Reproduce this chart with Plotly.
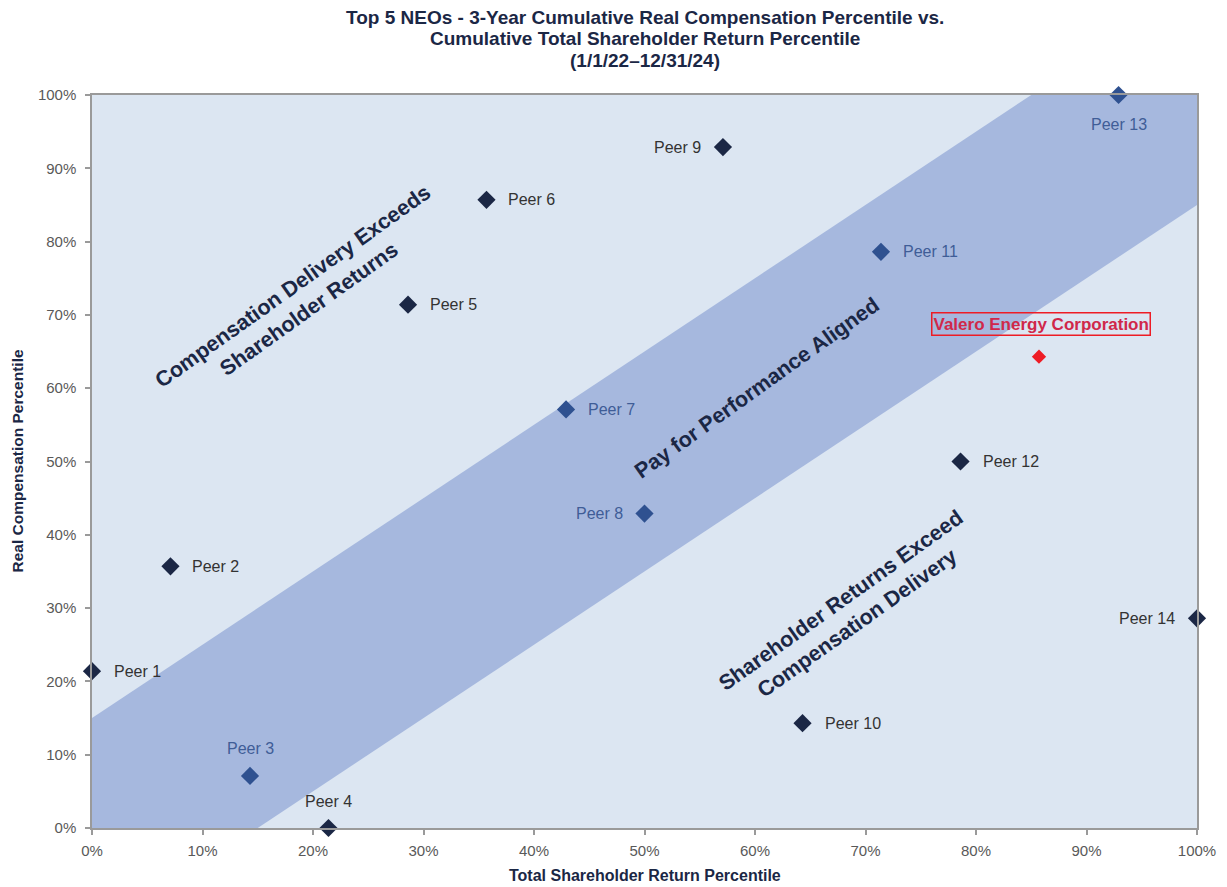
import plotly.graph_objects as go

# ---- data ----
peers = ["Peer 1", "Peer 2", "Peer 3", "Peer 4", "Peer 5", "Peer 6", "Peer 7",
         "Peer 8", "Peer 9", "Peer 10", "Peer 11", "Peer 12", "Peer 13", "Peer 14"]
tsr_pct = [0.0, 7.1, 14.3, 21.4, 28.6, 35.7, 42.9, 50.0, 57.1, 64.3, 71.4, 78.6, 92.9, 100.0]
comp_pct = [21.4, 35.7, 7.1, 0.0, 71.4, 85.7, 57.1, 42.9, 92.9, 14.3, 78.6, 50.0, 100.0, 28.6]
label_side = ["right", "right", "top", "top", "right", "right", "right",
              "left", "left", "right", "right", "right", "bottom", "left"]
valero_name = "Valero Energy Corporation"
valero_tsr = 85.7
valero_comp = 64.3
band_width = 15  # +/- percentile band
ticks = [0, 10, 20, 30, 40, 50, 60, 70, 80, 90, 100]
tick_labels = [f"{t}%" for t in ticks]
title_lines = ["Top 5 NEOs - 3-Year Cumulative Real Compensation Percentile vs.",
               "Cumulative Total Shareholder Return Percentile",
               "(1/1/22\u201312/31/24)"]

FONT = "Arial, Liberation Sans, sans-serif"
DARK = "#1b2745"
BLUE = "#2f5190"
DARK_TXT = "#333333"
BLUE_TXT = "#3f5d97"

in_band = [abs(c - t) <= band_width for t, c in zip(tsr_pct, comp_pct)]

fig = go.Figure()

# band polygon
bx = [0, band_width, 100, 100, 100 - band_width, 0, 0]
by = [0, 0, 100 - band_width, 100, 100, band_width, 0]
fig.add_trace(go.Scatter(x=bx, y=by, mode="lines", fill="toself",
                         fillcolor="#a6b8de", line=dict(width=0),
                         hoverinfo="skip", showlegend=False))

for flag, mc in [(False, DARK), (True, BLUE)]:
    idx = [i for i in range(len(peers)) if in_band[i] == flag]
    fig.add_trace(go.Scatter(
        x=[tsr_pct[i] for i in idx], y=[comp_pct[i] for i in idx],
        mode="markers", marker=dict(symbol="diamond", size=14, color=mc),
        cliponaxis=False, showlegend=False))

side_cfg = {
    "right": dict(xanchor="left", yanchor="middle", xshift=20, yshift=0),
    "left": dict(xanchor="right", yanchor="middle", xshift=-20, yshift=0),
    "top": dict(xanchor="center", yanchor="middle", xshift=0, yshift=27),
    "bottom": dict(xanchor="center", yanchor="middle", xshift=0, yshift=-29),
}
for i, name in enumerate(peers):
    fig.add_annotation(x=tsr_pct[i], y=comp_pct[i], text=name, showarrow=False,
                       font=dict(family=FONT, size=16,
                                 color=BLUE_TXT if in_band[i] else DARK_TXT),
                       **side_cfg[label_side[i]])

fig.add_trace(go.Scatter(x=[valero_tsr], y=[valero_comp], mode="markers",
                         marker=dict(symbol="diamond", size=11, color="#ee1c25"),
                         cliponaxis=False, showlegend=False))
fig.add_annotation(x=valero_tsr, y=valero_comp, text="<b>" + valero_name + "</b>",
                   showarrow=False, yshift=33, xshift=2,
                   font=dict(family=FONT, size=17, color="#d0284a"),
                   bordercolor="#ee1c25", borderwidth=1.5, borderpad=1)

region_font = dict(family=FONT, size=21.5, color="#1b2745")
fig.add_annotation(x=18.9, y=72.3, text="<b>Compensation Delivery Exceeds<br>Shareholder Returns</b>",
                   showarrow=False, textangle=-35.5, font=region_font)
fig.add_annotation(x=60.2, y=60.0, text="<b>Pay for Performance Aligned</b>",
                   showarrow=False, textangle=-35.5, font=region_font)
fig.add_annotation(x=68.5, y=29.5, text="<b>Shareholder Returns Exceed<br>Compensation Delivery</b>",
                   showarrow=False, textangle=-35.5, font=region_font)

# title lines
for line, ys in zip(title_lines, [78, 57, 35]):
    fig.add_annotation(x=0.5, y=1, xref="paper", yref="paper", yshift=ys,
                       text="<b>" + line + "</b>", showarrow=False,
                       xanchor="center", yanchor="middle",
                       font=dict(family=FONT, size=19, color="#1b2745"))

# axis titles as annotations (fixed positions)
fig.add_annotation(x=0.5, y=0, xref="paper", yref="paper", yshift=-47,
                   text="<b>Total Shareholder Return Percentile</b>", showarrow=False,
                   xanchor="center", yanchor="middle",
                   font=dict(family=FONT, size=16, color="#1b2745"))
fig.add_annotation(x=0, y=0.5, xref="paper", yref="paper", xshift=-75,
                   text="<b>Real Compensation Percentile</b>", showarrow=False,
                   textangle=-90, xanchor="center", yanchor="middle",
                   font=dict(family=FONT, size=15.5, color="#1b2745"))

axis_common = dict(range=[0, 100], tickvals=ticks, ticktext=tick_labels,
                   showgrid=False, zeroline=False, showline=True, linecolor="#9a9a9a",
                   linewidth=1.5, mirror=True, ticks="outside", ticklen=5,
                   tickcolor="#9a9a9a", tickwidth=1.5, automargin=False,
                   tickfont=dict(family=FONT, size=15, color="#595959"))

fig.update_layout(
    width=1227, height=887,
    margin=dict(l=92, r=30, t=95, b=59),
    paper_bgcolor="white", plot_bgcolor="#dce6f2",
    xaxis=dict(**axis_common, ticklabelstandoff=3),
    yaxis=dict(**axis_common, ticklabelstandoff=6),
)

fig.write_html("out.html")
